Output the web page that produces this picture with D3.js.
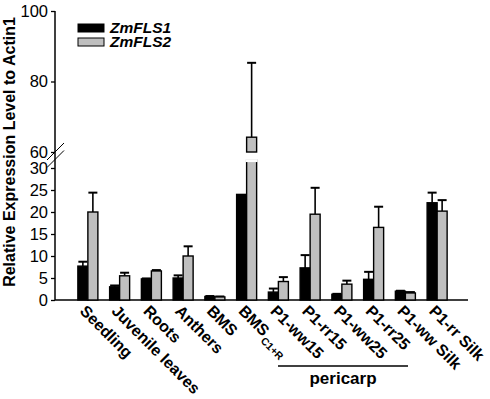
<!DOCTYPE html>
<html><head><meta charset="utf-8">
<script src="https://cdn.jsdelivr.net/npm/d3@7/dist/d3.min.js"></script>
<style>body{margin:0;background:#fff}svg{display:block;font-family:"Liberation Sans",Arial,sans-serif}</style>
</head><body><svg id="c" width="490" height="399"></svg>
<script>
const categories = ["Seedling","Juvenile leaves","Roots","Anthers","BMS","BMS C1+R","P1-ww15","P1-rr15","P1-ww25","P1-rr25","P1-ww Silk","P1-rr Silk"];
const labelMain = ["Seedling","Juvenile leaves","Roots","Anthers","BMS","BMS","P1-ww15","P1-rr15","P1-ww25","P1-rr25","P1-ww Silk","P1-rr Silk"];
const labelSub  = ["","","","","","C1+R","","","","","",""];
const seriesNames = ["ZmFLS1","ZmFLS2"];
const fls1    = [7.7, 3.0, 4.8, 5.0, 0.8, 24.0, 1.8, 7.3, 1.3, 4.7, 2.0, 22.1];
const fls1Err = [1.0, 0.3, 0.1, 0.6, 0.1, 6.8, 0.8, 2.9, 0.1, 1.7, 0.1, 2.3];
const fls2    = [20.0, 5.5, 6.6, 10.0, 0.7, 64.2, 4.2, 19.5, 3.6, 16.5, 1.6, 20.2];
const fls2Err = [4.4, 0.7, 0.2, 2.2, 0.1, 21.1, 1.0, 6.0, 0.8, 4.7, 0.2, 2.5];
const lowerTicks = [0,5,10,15,20,25,30];
const upperTicks = [60,80,100];
const groupLabel = "pericarp";
const yTitle = "Relative Expression Level to Actin1";

const colors = ["#000000","#bfbfbf"];
const svg = d3.select("#c");
const axisX = 55, baseY = 300, rightX = 468;

const x = d3.scaleBand().domain(categories).range([72, 453]).paddingInner(0.37).paddingOuter(0.185);
const xs = d3.scaleBand().domain([0,1]).range([0, x.bandwidth()]);
const yLow = d3.scaleLinear().domain([0,30]).range([baseY, 168]);
const yUp = d3.scaleLinear().domain([60,100]).range([152, 11]);
const y = v => v <= 30 ? yLow(v) : yUp(v);

// axes
const gLow = svg.append("g").attr("transform",`translate(${axisX},0)`)
  .call(d3.axisLeft(yLow).tickValues(lowerTicks).tickSize(4).tickPadding(3));
const gUp = svg.append("g").attr("transform",`translate(${axisX},0)`)
  .call(d3.axisLeft(yUp).tickValues(upperTicks).tickSize(4).tickPadding(3));
[gLow,gUp].forEach(g=>{
  g.select(".domain").remove();
  g.selectAll("line").attr("stroke","#000").attr("stroke-width",1.3);
  g.selectAll("text").attr("font-size",16.5).attr("fill","#000").attr("font-family",null);
});
svg.append("line").attr("x1",axisX).attr("x2",axisX).attr("y1",yUp(100)).attr("y2",baseY)
  .attr("stroke","#000").attr("stroke-width",1.5);
// break marks
[0,7.5].forEach(o=>{
  svg.append("line").attr("x1",axisX-8).attr("y1",160+o).attr("x2",axisX+9).attr("y2",143+o)
    .attr("stroke","#000").attr("stroke-width",1);
});
// x axis baseline
svg.append("line").attr("x1",axisX).attr("x2",rightX).attr("y1",baseY).attr("y2",baseY)
  .attr("stroke","#000").attr("stroke-width",1.5);

const data = categories.map((c,i)=>({c, vals:[fls1[i],fls2[i]], errs:[fls1Err[i],fls2Err[i]]}));
const bw = xs.bandwidth();
const g = svg.append("g");
data.forEach(d=>{
  d.vals.forEach((v,k)=>{
    const bx = x(d.c)+xs(k);
    const e = d.errs[k];
    const cx = bx + bw/2;
    svg.append("line").attr("x1",cx).attr("x2",cx).attr("y1",y(v)).attr("y2",y(v+e))
      .attr("stroke","#000").attr("stroke-width",1.6);
    svg.append("line").attr("x1",bx+0.5).attr("x2",bx+bw-0.5).attr("y1",y(v+e)).attr("y2",y(v+e))
      .attr("stroke","#000").attr("stroke-width",2);
    if (v <= 30) {
      g.append("rect").attr("x",bx).attr("y",y(v)).attr("width",bw).attr("height",baseY-y(v))
        .attr("fill",colors[k]).attr("stroke","#000").attr("stroke-width",1.4);
    } else {
      g.append("rect").attr("x",bx).attr("y",yUp(v)).attr("width",bw).attr("height",yUp(60)-yUp(v))
        .attr("fill",colors[k]).attr("stroke","#000").attr("stroke-width",1.4);
      const top = yLow(31.8);
      g.append("rect").attr("x",bx).attr("y",top).attr("width",bw).attr("height",baseY-top)
        .attr("fill",colors[k]).attr("stroke","#000").attr("stroke-width",1.4);
      g.append("rect").attr("x",bx-1).attr("y",top-1).attr("width",bw+2).attr("height",3).attr("fill","#fff");
    }
  });
});
svg.node().appendChild(g.node());

// x labels
categories.forEach((c,i)=>{
  const cx = x(c)+x.bandwidth()/2;
  const t = svg.append("text").attr("transform",`translate(${cx-9},${baseY+12}) rotate(45)`)
    .attr("font-size",16).attr("font-weight","bold").attr("fill","#000");
  t.append("tspan").text(labelMain[i]);
  if (labelSub[i]) t.append("tspan").attr("font-size",10.5).attr("dy",5).attr("dx",1).text(labelSub[i]);
});

// pericarp bracket
svg.append("line").attr("x1",278).attr("x2",408).attr("y1",366).attr("y2",366)
  .attr("stroke","#000").attr("stroke-width",1.5);
svg.append("text").attr("x",343).attr("y",384).attr("text-anchor","middle")
  .attr("font-size",17).attr("font-weight","bold").text(groupLabel);

// y title
svg.append("text").attr("transform",`translate(15,152) rotate(-90)`).attr("text-anchor","middle")
  .attr("font-size",16).attr("font-weight","bold").text(yTitle);

// legend
seriesNames.forEach((s,i)=>{
  svg.append("rect").attr("x",78).attr("y",24+i*14).attr("width",26).attr("height",8)
    .attr("fill",colors[i]).attr("stroke","#000").attr("stroke-width",1);
  svg.append("text").attr("x",110).attr("y",33+i*14).attr("font-size",15.5)
    .attr("font-weight","bold").attr("font-style","italic").text(s);
});
</script></body></html>
